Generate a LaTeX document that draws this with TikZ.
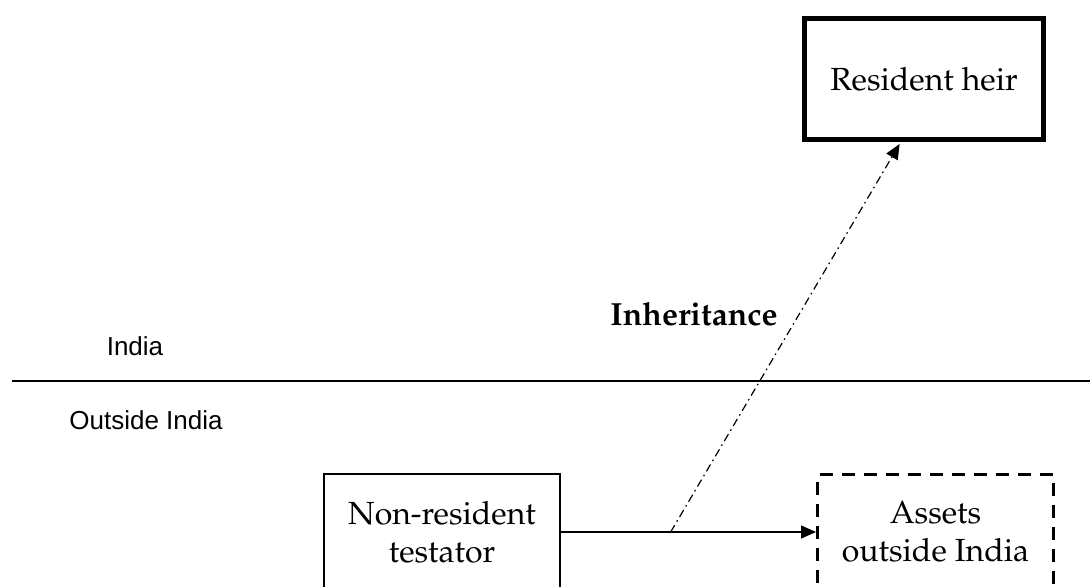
\documentclass[tikz,border=0pt]{standalone}
\usepackage[T1]{fontenc}
\usepackage{fontspec}
\usetikzlibrary{arrows.meta,calc}
\newfontfamily\labelsans{Liberation Sans}
\newcommand\bookserif{\fontencoding{T1}\fontfamily{ppl}\selectfont}

\tikzset{
  boxtext/.style={align=center, inner sep=0pt,
    font=\bookserif\fontsize{16}{19}\selectfont},
  heirbox/.style={boxtext, draw, line width=2.5pt,
    minimum width=119.5pt, minimum height=60.5pt},
  personbox/.style={boxtext, draw, line width=1pt,
    minimum width=118pt, minimum height=58pt},
  assetbox/.style={boxtext, draw, line width=1.5pt,
    dash pattern=on 6.5pt off 4.5pt,
    minimum width=118pt, minimum height=57.5pt},
  region/.style={font=\labelsans\fontsize{13}{15}\selectfont, inner sep=0pt},
  tip/.style={-{Triangle[length=7.5pt,width=6.5pt]}},
  flow/.style={tip, line width=0.6pt},
  inherit/.style={tip, line width=0.6pt,
    dash pattern=on 4pt off 2pt on 0.8pt off 2pt},
  border/.style={line width=0.7pt}
}

\begin{document}
\begin{tikzpicture}[x=0.5pt, y=-0.5pt]
  \useasboundingbox (0,0) rectangle (1090,587);
  \clip (0,0) rectangle (1090,587);

  % region labels and the dividing line
  \node[region] (india) at (135,346) {India};
  \node[region] (outside) at (146,420) {Outside India};
  \coordinate (lineW) at (12,381);
  \coordinate (lineE) at (1090,381);
  \draw[border] (lineW) -- (lineE);

  % parties and assets
  \node[heirbox] (heir) at (924,79) {Resident heir};
  \node[personbox] (testator) at (442,532) {Non-resident\\testator};
  \node[assetbox] (assets) at (935.5,532) {Assets\\outside India};

  % connectors
  \draw[flow] (testator.east) -- (assets.west);
  \coordinate (split) at ($(testator.east)!0.43!(assets.west)$);
  \coordinate (heirfoot) at ($(heir.south west)!0.4!(heir.south east)+(0,2)$);
  \draw[inherit] (split) -- (heirfoot);

  \node[font=\bookserif\bfseries\fontsize{16}{19}\selectfont, inner sep=0pt]
    (inheritance) at (694,314) {Inheritance};
\end{tikzpicture}
\end{document}
